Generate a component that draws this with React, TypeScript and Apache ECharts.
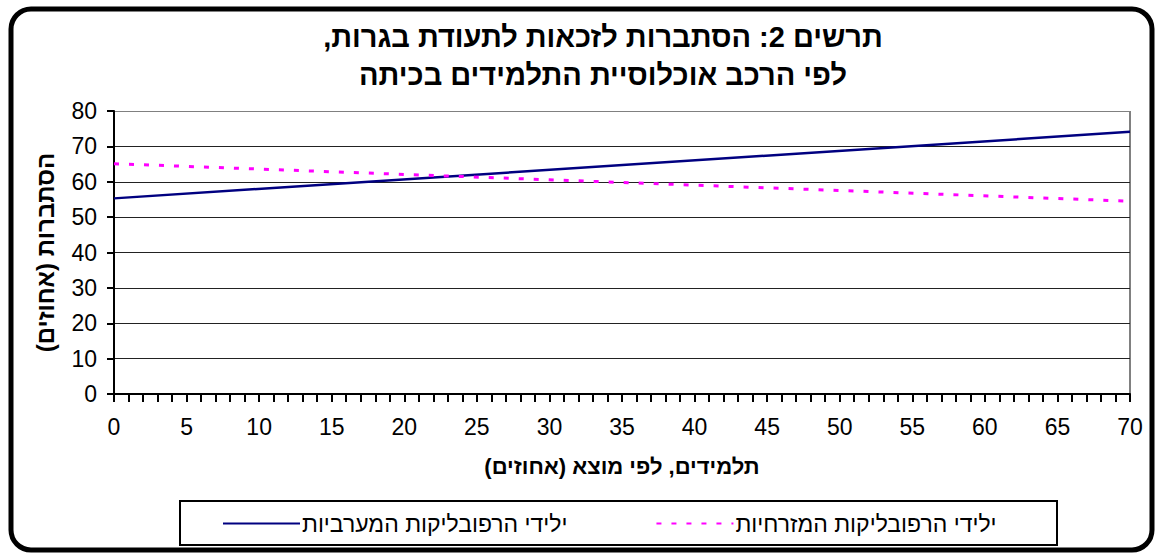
import React, { useEffect, useRef } from "react";
import * as echarts from "echarts";

const RLM = "\u200F";
const titleLines = ["תרשים 2: הסתברות לזכאות לתעודת בגרות,", "לפי הרכב אוכלוסיית התלמידים בכיתה"];
const xAxisName = "תלמידים, לפי מוצא (אחוזים)";
const yAxisName = "הסתברות (אחוזים)";
const seriesNames = ["ילידי הרפובליקות המערביות", "ילידי הרפובליקות המזרחיות"];
const westernData: [number, number][] = [[0, 55.3], [70, 74.1]];
const easternData: [number, number][] = [[0, 65.1], [70, 54.5]];
const xMin = 0, xMax = 70, xStep = 5;
const yMin = 0, yMax = 80, yStep = 10;

const rtl = (s: string) => RLM + s + RLM;
const FONT = "'Liberation Sans', Arial, sans-serif";

export default function App() {
  const ref = useRef<HTMLDivElement>(null);
  useEffect(() => {
    if (!ref.current) return;
    const chart = echarts.init(ref.current, undefined, { renderer: "svg" });
    const gridColors = ["#000", "#222", "#222", "#222", "#222", "#222", "#222", "#222", "#808080"];
    chart.setOption({
      animation: false,
      backgroundColor: "#fff",
      textStyle: { fontFamily: FONT },
      graphic: [
        {
          type: "rect",
          shape: { x: 11, y: 9, width: 1141, height: 541, r: 20 },
          style: { fill: "none", stroke: "#000", lineWidth: 5 },
          z: 100,
        },
        {
          type: "rect",
          shape: { x: 180, y: 501, width: 877, height: 44 },
          style: { fill: "none", stroke: "#000", lineWidth: 2 },
        },
        {
          type: "line",
          shape: { x1: 1130, y1: 111, x2: 1130, y2: 394 },
          style: { stroke: "#808080", lineWidth: 2 },
        },
      ],
      title: {
        text: titleLines.map(rtl).join("\n"),
        left: 598,
        top: 13,
        textAlign: "center",
        textStyle: { fontFamily: FONT, fontSize: 29, fontWeight: "bold", color: "#000", lineHeight: 38 },
      },
      legend: {
        left: 217,
        top: 507,
        itemWidth: 77,
        itemHeight: 14,
        itemGap: 88,
        data: seriesNames.map(rtl),
        itemStyle: { opacity: 0, borderWidth: 0 },
        textStyle: { fontFamily: FONT, fontSize: 23, color: "#000", padding: [0, 0, 0, -3] },
      },
      grid: { left: 114, right: 28, top: 111, bottom: 159 },
      xAxis: {
        type: "value",
        min: xMin,
        max: xMax,
        interval: xStep,
        name: rtl(xAxisName),
        nameLocation: "middle",
        nameGap: 61,
        nameTextStyle: { fontFamily: FONT, fontSize: 22, fontWeight: "bold", color: "#000" },
        axisLine: { show: true, lineStyle: { color: "#000", width: 2 } },
        axisTick: { show: true, inside: false, length: 8, lineStyle: { color: "#000", width: 2 } },
        minorTick: { show: true, splitNumber: 5, length: 8, lineStyle: { color: "#000", width: 2 } },
        axisLabel: { fontFamily: FONT, fontSize: 23, color: "#000", margin: 21 },
        splitLine: { show: false },
      },
      yAxis: {
        type: "value",
        min: yMin,
        max: yMax,
        interval: yStep,
        name: rtl(yAxisName),
        nameLocation: "middle",
        nameRotate: 90,
        nameGap: 57,
        nameTextStyle: { fontFamily: FONT, fontSize: 24, fontWeight: "bold", color: "#000" },
        axisLine: { show: true, lineStyle: { color: "#000", width: 2 } },
        axisTick: { show: true, length: 7, lineStyle: { color: "#000", width: 2 } },
        axisLabel: { fontFamily: FONT, fontSize: 23, color: "#000", margin: 17 },
        splitLine: { show: true, lineStyle: { color: gridColors, width: 1 } },
      },
      series: [
        {
          name: rtl(seriesNames[0]),
          type: "line",
          data: westernData,
          symbol: "none",
          lineStyle: { color: "#000080", width: 2.5 },
          itemStyle: { color: "#000080" },
        },
        {
          name: rtl(seriesNames[1]),
          type: "line",
          data: easternData,
          symbol: "none",
          lineStyle: { color: "#FF00FF", width: 3, type: [5, 10] },
          itemStyle: { color: "#FF00FF" },
        },
      ],
    });
    return () => chart.dispose();
  }, []);
  return <div ref={ref} style={{ position: "fixed", left: 0, top: 0, width: 1158, height: 553 }} />;
}
